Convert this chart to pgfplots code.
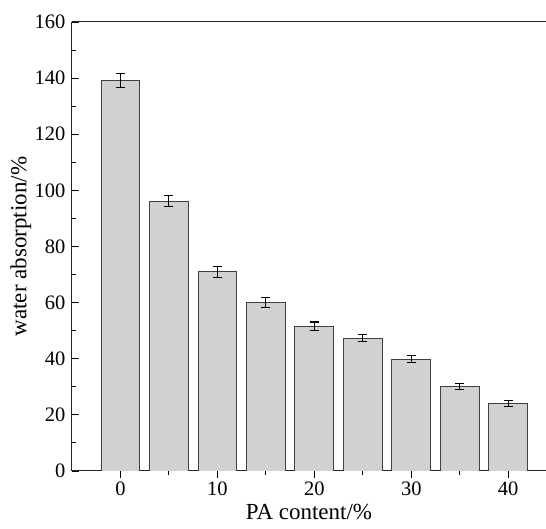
\documentclass[border=0pt]{standalone}
\usepackage{pgfplots}
\pgfplotsset{compat=1.18}
\usepackage{fontspec}
\setmainfont{Liberation Serif}
\begin{document}
\begin{tikzpicture}
\begin{axis}[
  scale only axis, width=474pt, height=449pt,
  xmin=-5, xmax=43.9, ymin=0, ymax=160,
  axis x line*=box, axis y line*=left,
  xtick={0,10,20,30,40}, minor xtick={5,15,25,35},
  ytick={0,20,...,160}, minor ytick={10,30,...,150},
  xtick pos=bottom, ytick pos=left,
  tick align=inside,
  major tick length=7pt, minor tick length=4pt,
  tick style={black, line width=0.9pt},
  axis line style={line width=1pt, black!85},
  tick label style={font=\fontsize{20.5}{24}\selectfont},
  yticklabel style={xshift=-3pt},
  label style={font=\fontsize{23}{26}\selectfont},
  /pgf/number format/assume math mode=true,
  xlabel={PA content/\%}, ylabel={water absorption/\%},
  xlabel style={at={(axis description cs:0.5,-0.092)}, anchor=center},
  ylabel style={at={(axis description cs:-0.108,0.5)}, anchor=center},
  ybar, bar width=4,
]
\addplot[fill=black!18, draw=black!75, line width=0.9pt,
  error bars/.cd, y dir=both, y explicit,
  error bar style={black, line width=1.1pt},
  error mark options={rotate=90, mark size=4.5pt, line width=1.1pt, black}]
coordinates {
  (0,139.2) +- (0,2.5)
  (5,96.2) +- (0,2.0)
  (10,71.0) +- (0,2.0)
  (15,60.1) +- (0,1.8)
  (20,51.6) +- (0,1.5)
  (25,47.3) +- (0,1.3)
  (30,39.9) +- (0,1.1)
  (35,30.2) +- (0,1.0)
  (40,24.0) +- (0,1.0)
};
\coordinate (bl) at (rel axis cs:0,0);
\coordinate (tr) at (rel axis cs:1,1);
\end{axis}
\pgfresetboundingbox
\path ([shift={(-72pt,-58pt)}]bl) rectangle ([shift={(0pt,22pt)}]tr);
\end{tikzpicture}
\end{document}
